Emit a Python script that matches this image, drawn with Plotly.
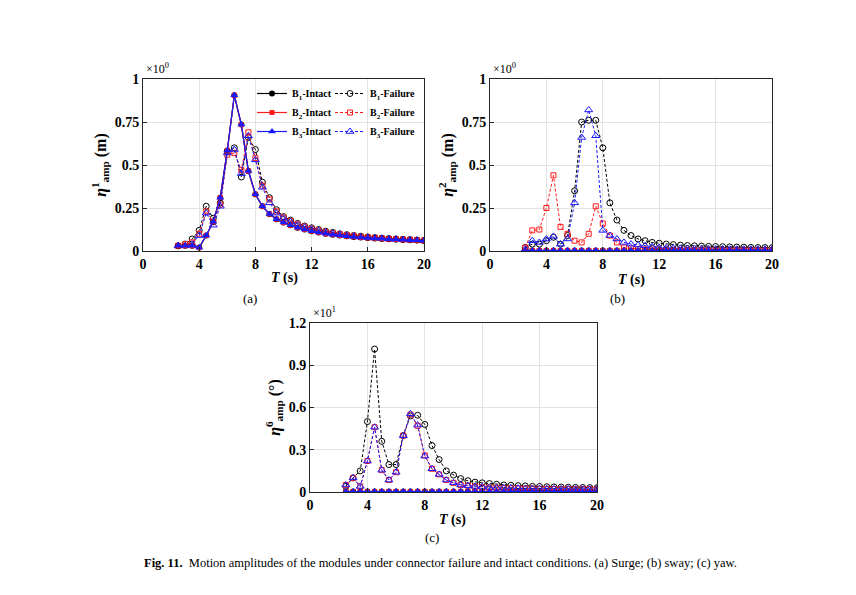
import plotly.graph_objects as go

W, H = 856, 595

T = [2.5, 3.0, 3.5, 4.0, 4.5, 5.0, 5.5, 6.0, 6.5, 7.0, 7.5, 8.0, 8.5, 9.0, 9.5, 10.0,
     10.5, 11.0, 11.5, 12.0, 12.5, 13.0, 13.5, 14.0, 14.5, 15.0, 15.5, 16.0, 16.5, 17.0,
     17.5, 18.0, 18.5, 19.0, 19.5, 20.0]

# (a) Surge
a_intact = [0.03, 0.03, 0.03, 0.02, 0.09, 0.17, 0.31, 0.585, 0.905, 0.735, 0.465, 0.33,
            0.26, 0.215, 0.185, 0.165, 0.15, 0.135, 0.125, 0.115, 0.108, 0.10, 0.095, 0.09,
            0.086, 0.082, 0.079, 0.076, 0.073, 0.071, 0.069, 0.067, 0.065, 0.063, 0.062, 0.06]
a_b1_fail = [0.03, 0.04, 0.07, 0.12, 0.26, 0.19, 0.28, 0.58, 0.60, 0.43, 0.66, 0.59, 0.40,
             0.31, 0.24, 0.20, 0.18, 0.16, 0.145, 0.135, 0.125, 0.115, 0.108, 0.10, 0.095,
             0.09, 0.086, 0.082, 0.078, 0.075, 0.072, 0.07, 0.068, 0.066, 0.064, 0.062]
a_b2_fail = [0.03, 0.04, 0.05, 0.10, 0.23, 0.17, 0.27, 0.56, 0.57, 0.47, 0.69, 0.54, 0.38,
             0.30, 0.23, 0.195, 0.175, 0.155, 0.142, 0.13, 0.12, 0.112, 0.105, 0.098, 0.092,
             0.088, 0.084, 0.08, 0.077, 0.074, 0.071, 0.069, 0.067, 0.065, 0.063, 0.061]
a_b3_fail = [0.03, 0.03, 0.04, 0.09, 0.22, 0.15, 0.26, 0.57, 0.59, 0.45, 0.67, 0.53, 0.37,
             0.28, 0.22, 0.19, 0.17, 0.15, 0.138, 0.127, 0.118, 0.11, 0.103, 0.096, 0.09,
             0.086, 0.082, 0.079, 0.076, 0.073, 0.07, 0.068, 0.066, 0.064, 0.062, 0.06]

# (b) Sway
b_intact = [0.003] * 36
b_b1_fail = [0.02, 0.04, 0.04, 0.06, 0.08, 0.04, 0.09, 0.35, 0.75, 0.76, 0.76, 0.60, 0.28,
             0.18, 0.12, 0.09, 0.07, 0.06, 0.05, 0.045, 0.04, 0.037, 0.034, 0.032, 0.03,
             0.028, 0.027, 0.026, 0.025, 0.024, 0.023, 0.022, 0.021, 0.02, 0.02, 0.019]
b_b2_fail = [0.02, 0.12, 0.125, 0.25, 0.44, 0.14, 0.10, 0.06, 0.05, 0.10, 0.26, 0.16, 0.09,
             0.05, 0.02, 0.015, 0.012, 0.01, 0.009, 0.008, 0.008, 0.007, 0.007, 0.007, 0.006,
             0.006, 0.006, 0.006, 0.005, 0.005, 0.005, 0.005, 0.005, 0.005, 0.005, 0.005]
b_b3_fail = [0.01, 0.06, 0.05, 0.07, 0.085, 0.04, 0.07, 0.28, 0.66, 0.82, 0.67, 0.12, 0.09,
             0.07, 0.05, 0.04, 0.035, 0.03, 0.025, 0.02, 0.018, 0.016, 0.015, 0.014, 0.013,
             0.012, 0.012, 0.011, 0.011, 0.011, 0.01, 0.01, 0.01, 0.01, 0.01, 0.01]

# (c) Yaw (x10)
c_intact = [0.003] * 36
c_b1_fail = [0.04, 0.10, 0.15, 0.50, 1.015, 0.36, 0.195, 0.195, 0.40, 0.54, 0.545, 0.48,
             0.33, 0.23, 0.15, 0.12, 0.095, 0.08, 0.07, 0.065, 0.06, 0.055, 0.05, 0.048,
             0.045, 0.043, 0.04, 0.039, 0.037, 0.036, 0.035, 0.034, 0.033, 0.032, 0.031, 0.03]
c_b2_fail = [0.05, 0.10, 0.04, 0.22, 0.46, 0.155, 0.085, 0.14, 0.40, 0.55, 0.47, 0.26,
             0.165, 0.125, 0.085, 0.065, 0.05, 0.045, 0.04, 0.035, 0.032, 0.03, 0.028, 0.027,
             0.026, 0.025, 0.024, 0.023, 0.022, 0.022, 0.021, 0.021, 0.02, 0.02, 0.02, 0.02]
c_b3_fail = [0.05, 0.10, 0.04, 0.22, 0.46, 0.155, 0.085, 0.14, 0.40, 0.555, 0.475, 0.255,
             0.165, 0.125, 0.085, 0.065, 0.05, 0.045, 0.04, 0.035, 0.032, 0.03, 0.028, 0.027,
             0.026, 0.025, 0.024, 0.023, 0.022, 0.022, 0.021, 0.021, 0.02, 0.02, 0.02, 0.02]

panel_labels = ["(a)", "(b)", "(c)"]
y_titles = ["<i>η</i><sup>1</sup><sub>amp</sub> (m)",
            "<i>η</i><sup>2</sup><sub>amp</sub> (m)",
            "<i>η</i><sup>6</sup><sub>amp</sub> (°)"]
y_tickvals = [[0, 0.25, 0.5, 0.75, 1], [0, 0.25, 0.5, 0.75, 1], [0, 0.3, 0.6, 0.9, 1.2]]
y_ticktext = [["0", "0.25", "0.5", "0.75", "1"], ["0", "0.25", "0.5", "0.75", "1"],
              ["0", "0.3", "0.6", "0.9", "1.2"]]
exponents = ["×10<sup>0</sup>", "×10<sup>0</sup>", "×10<sup>1</sup>"]
x_ticks = [0, 4, 8, 12, 16, 20]

BLACK, RED, BLUE = "#000000", "#ff1a1a", "#1a1aff"
FONT = "Liberation Serif"
DASH = "3px,2px"

# pixel boxes (left, right, top, bottom)
boxes = [(143, 424, 79, 251), (490, 772, 79, 251), (310, 597, 323, 492)]
xtitle_pos = [(284, 278), (631, 280), (452, 520)]
label_pos = [(250, 298), (617, 298), (432, 537)]


def px_x(p):
    return p / W


def px_y(p):
    return 1 - p / H


fig = go.Figure()

panels = [
    (a_intact, a_intact, a_intact, a_b1_fail, a_b2_fail, a_b3_fail),
    (b_intact, b_intact, b_intact, b_b1_fail, b_b2_fail, b_b3_fail),
    (c_intact, c_intact, c_intact, c_b1_fail, c_b2_fail, c_b3_fail),
]
names_int = ["B<sub>1</sub>-Intact", "B<sub>2</sub>-Intact", "B<sub>3</sub>-Intact"]
names_fail = ["B<sub>1</sub>-Failure", "B<sub>2</sub>-Failure", "B<sub>3</sub>-Failure"]
colors = [BLACK, RED, BLUE]
sym_int = ["circle", "square", "triangle-up"]
sym_fail = ["circle-open", "square-open", "triangle-up-open"]
sizes = [6, 5, 7]

for p, series in enumerate(panels):
    xa = "x" if p == 0 else f"x{p+1}"
    ya = "y" if p == 0 else f"y{p+1}"
    for k in range(3):
        fig.add_trace(go.Scatter(
            x=T, y=series[3 + k], xaxis=xa, yaxis=ya, mode="lines+markers",
            name=names_fail[k], legend="legend2", showlegend=(p == 0),
            line=dict(color=colors[k], width=1, dash=DASH),
            marker=dict(symbol=sym_fail[k], size=sizes[k], color=colors[k],
                        line=dict(color=colors[k], width=1))))
    for k in range(3):
        fig.add_trace(go.Scatter(
            x=T, y=series[k], xaxis=xa, yaxis=ya, mode="lines+markers",
            name=names_int[k], legend="legend", showlegend=(p == 0),
            line=dict(color=colors[k], width=1.2),
            marker=dict(symbol=sym_int[k], size=sizes[k], color=colors[k])))

axis_common = dict(showline=True, linecolor="#262626", linewidth=1, mirror=True,
                   ticks="inside", ticklen=4, tickcolor="#262626", automargin=False,
                   showgrid=True, gridcolor="#e3e3e3", gridwidth=1, zeroline=False,
                   tickfont=dict(family=FONT, size=14, color="black"))

layout = dict(width=W, height=H, margin=dict(l=0, r=0, t=0, b=0, pad=0, autoexpand=False),
              paper_bgcolor="white", plot_bgcolor="white", showlegend=True)

annotations = []
for p in range(3):
    l, r, t, b = boxes[p]
    suffix = "" if p == 0 else str(p + 1)
    xa = dict(axis_common)
    xa.update(domain=[px_x(l), px_x(r)], range=[0, 20], tickvals=x_ticks,
              ticktext=[f"<b>{v}</b>" for v in x_ticks],
              anchor="y" + suffix)
    ya = dict(axis_common)
    ya.update(domain=[px_y(b), px_y(t)],
              range=[0, 1.2 if p == 2 else 1.0],
              tickvals=y_tickvals[p],
              ticktext=[f"<b>{v}</b>" for v in y_ticktext[p]],
              anchor="x" + suffix,
              title=dict(text=f"<b>{y_titles[p]}</b>", standoff=4,
                         font=dict(family=FONT, size=16, color="black")))
    layout["xaxis" + suffix] = xa
    layout["yaxis" + suffix] = ya
    tx, ty = xtitle_pos[p]
    annotations.append(dict(text="<b><i>T</i> (s)</b>", x=px_x(tx), y=px_y(ty),
                            xref="paper", yref="paper", showarrow=False,
                            xanchor="center", yanchor="middle",
                            font=dict(family=FONT, size=14, color="black")))
    lx, ly = label_pos[p]
    annotations.append(dict(text=panel_labels[p], x=px_x(lx), y=px_y(ly),
                            xref="paper", yref="paper", showarrow=False,
                            xanchor="center", yanchor="middle",
                            font=dict(family=FONT, size=13, color="black")))
    annotations.append(dict(text=exponents[p], x=px_x(l + 1), y=px_y(t - 1),
                            xref="paper", yref="paper", showarrow=False,
                            xanchor="left", yanchor="bottom",
                            font=dict(family=FONT, size=12, color="black")))

annotations.append(dict(
    text="<b>Fig. 11.</b>  Motion amplitudes of the modules under connector failure and intact conditions. (a) Surge; (b) sway; (c) yaw.",
    x=px_x(142), y=px_y(563), xref="paper", yref="paper", xanchor="left", yanchor="middle",
    showarrow=False, font=dict(family=FONT, size=12.5, color="black")))

legend_font = dict(family=FONT, size=10, color="black", weight="bold")
layout["legend"] = dict(x=px_x(252), y=px_y(79), xanchor="left", yanchor="top",
                        bgcolor="rgba(0,0,0,0)", font=legend_font, itemwidth=30,
                        tracegroupgap=0, traceorder="normal", borderwidth=0)
layout["legend2"] = dict(x=px_x(330), y=px_y(79), xanchor="left", yanchor="top",
                         bgcolor="rgba(0,0,0,0)", font=legend_font, itemwidth=30,
                         tracegroupgap=0, traceorder="normal", borderwidth=0)
layout["annotations"] = annotations

fig.update_layout(**layout)
fig.write_html("out.html")
